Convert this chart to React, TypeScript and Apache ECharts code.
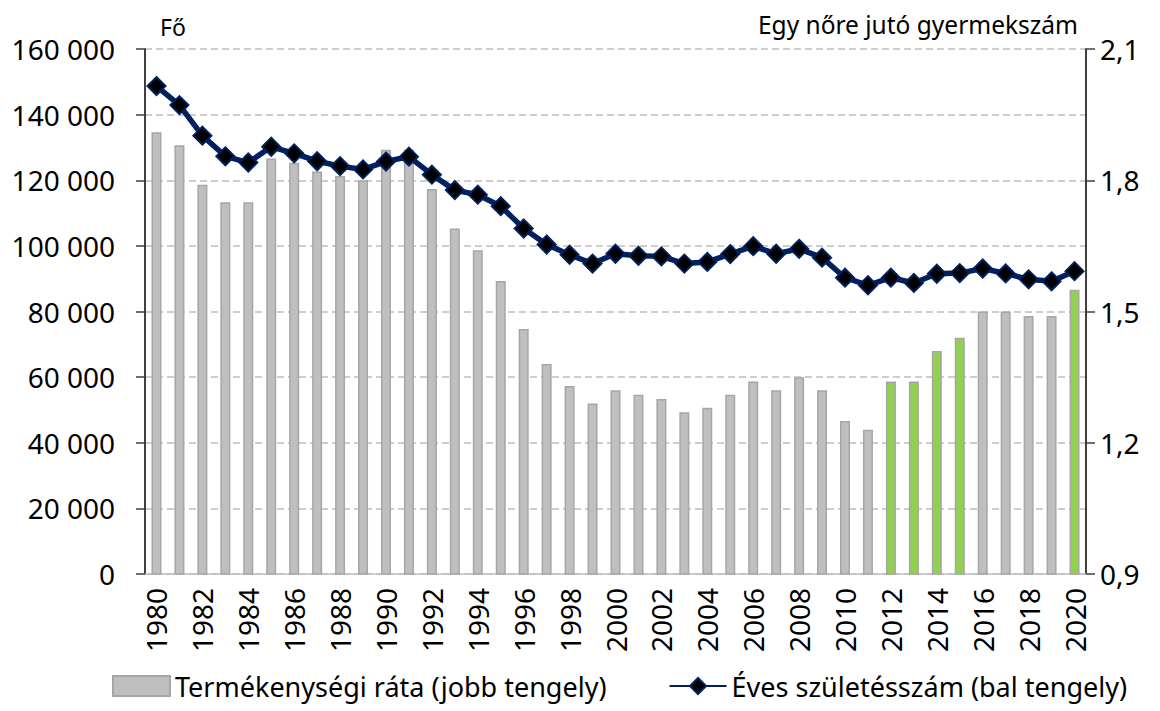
import React, { useEffect, useRef } from "react";
import * as echarts from "echarts";

const years = [
  "1980", "1981", "1982", "1983", "1984", "1985", "1986", "1987", "1988", "1989",
  "1990", "1991", "1992", "1993", "1994", "1995", "1996", "1997", "1998", "1999",
  "2000", "2001", "2002", "2003", "2004", "2005", "2006", "2007", "2008", "2009",
  "2010", "2011", "2012", "2013", "2014", "2015", "2016", "2017", "2018", "2019",
  "2020",
];

// Éves születésszám (fő) – bal tengely
const births = [
  148700, 142900, 133600, 127300, 125400, 130200, 128200, 125800, 124300, 123300,
  125700, 127200, 121700, 117000, 115600, 112100, 105300, 100400, 97300, 94600,
  97600, 97000, 96800, 94600, 95100, 97500, 99900, 97600, 99100, 96400,
  90300, 88000, 90300, 88700, 91500, 91700, 93100, 91600, 89800, 89200,
  92300,
];

// Termékenységi ráta – jobb tengely
const fertility = [
  1.91, 1.88, 1.79, 1.75, 1.75, 1.85, 1.84, 1.82, 1.81, 1.80,
  1.87, 1.87, 1.78, 1.69, 1.64, 1.57, 1.46, 1.38, 1.33, 1.29,
  1.32, 1.31, 1.30, 1.27, 1.28, 1.31, 1.34, 1.32, 1.35, 1.32,
  1.25, 1.23, 1.34, 1.34, 1.41, 1.44, 1.50, 1.50, 1.49, 1.49,
  1.55,
];

const highlightYears = ["2012", "2013", "2014", "2015", "2020"];

const leftTicks = { min: 0, max: 160000, interval: 20000 };
const rightTicks = { min: 0.9, max: 2.1, interval: 0.3 };

const barName = "Termékenységi ráta (jobb tengely)";
const lineName = "Éves születésszám (bal tengely)";
const leftTitle = "Fő";
const rightTitle = "Egy nőre jutó gyermekszám";

const FONT = "Noto Sans";

export default function App() {
  const ref = useRef<HTMLDivElement>(null);

  useEffect(() => {
    if (!ref.current) return;
    const chart = echarts.init(ref.current, null, { renderer: "svg" });

    const barData = fertility.map((v, i) =>
      highlightYears.includes(years[i])
        ? { value: v, itemStyle: { color: "#92D050" } }
        : { value: v }
    );

    chart.setOption({
      animation: false,
      textStyle: { fontFamily: FONT, color: "#000" },
      grid: { left: 145, right: 74, top: 49, bottom: 137, containLabel: false },
      xAxis: {
        type: "category",
        data: years,
        boundaryGap: true,
        axisLine: { lineStyle: { color: "#BFBFBF", width: 1.5 } },
        axisTick: { show: false },
        axisLabel: {
          rotate: 90,
          interval: 1,
          margin: 14,
          fontSize: 28,
          color: "#000",
          fontFamily: FONT,
        },
      },
      yAxis: [
        {
          type: "value",
          position: "left",
          min: leftTicks.min,
          max: leftTicks.max,
          interval: leftTicks.interval,
          axisLine: { show: true, lineStyle: { color: "#000", width: 1.5 } },
          axisTick: { show: true, inside: false, length: 9, lineStyle: { color: "#404040", width: 1.5 } },
          splitLine: { show: true, lineStyle: { type: [7, 4], color: "#BFBFBF", width: 1.5 } },
          axisLabel: {
            margin: 30,
            fontSize: 28,
            color: "#000",
            fontFamily: FONT,
            formatter: (v: number) => String(v).replace(/\B(?=(\d{3})+(?!\d))/g, " "),
          },
        },
        {
          type: "value",
          position: "right",
          min: rightTicks.min,
          max: rightTicks.max,
          interval: rightTicks.interval,
          axisLine: { show: true, lineStyle: { color: "#000", width: 1.5 } },
          axisTick: { show: true, inside: false, length: 9, lineStyle: { color: "#404040", width: 1.5 } },
          splitLine: { show: false },
          axisLabel: {
            margin: 14,
            fontSize: 28,
            color: "#000",
            fontFamily: FONT,
            formatter: (v: number) => v.toFixed(1).replace(".", ","),
          },
        },
      ],
      legend: {
        bottom: 8,
        left: 112,
        width: 1048,
        padding: 0,
        itemWidth: 57,
        itemHeight: 20,
        itemGap: 62,
        textStyle: { fontSize: 27, color: "#000", fontFamily: FONT, lineHeight: 34 },
        data: [
          { name: barName, icon: "rect" },
          { name: lineName },
        ],
      },
      graphic: [
        {
          type: "text",
          left: 160,
          top: 15,
          style: { text: leftTitle, fontSize: 23, fill: "#000", fontFamily: FONT },
        },
        {
          type: "text",
          right: 82,
          top: 12,
          style: { text: rightTitle, fontSize: 24.5, fill: "#000", fontFamily: FONT },
        },
      ],
      series: [
        {
          name: barName,
          type: "bar",
          yAxisIndex: 1,
          barWidth: 10,
          data: barData,
          itemStyle: { color: "#BFBFBF", borderColor: "#A6A6A6", borderWidth: 1.5 },
        },
        {
          name: lineName,
          type: "line",
          yAxisIndex: 0,
          data: births,
          symbol: "diamond",
          symbolSize: 18,
          showSymbol: true,
          showAllSymbol: true,
          lineStyle: { color: "#002060", width: 5.5 },
          itemStyle: { color: "#000", borderColor: "#002060", borderWidth: 2 },
          z: 5,
        },
      ],
    });

    return () => chart.dispose();
  }, []);

  return (
    <div
      ref={ref}
      style={{ position: "fixed", left: 0, top: 0, width: 1160, height: 711, background: "#fff" }}
    />
  );
}
